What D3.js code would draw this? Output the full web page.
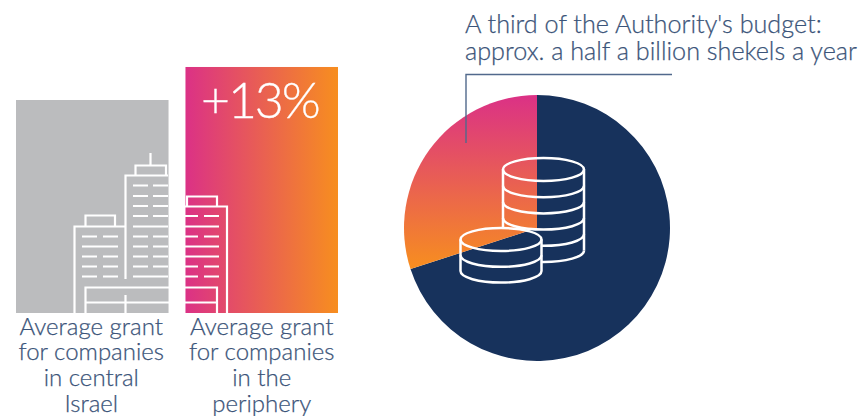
<!DOCTYPE html>
<html><head><meta charset="utf-8">
<script src="https://cdn.jsdelivr.net/npm/d3@7"></script>
<style>html,body{margin:0;padding:0;background:#fff}svg{display:block}text{font-family:Lato,"Open Sans",sans-serif;font-weight:300}</style>
</head><body><div id="c"></div>
<script>
const barCategories = ["central", "periphery"];
const barValues = [100, 115.5];
const barLabelLines = [["Average grant","for companies","in central","Israel"],["Average grant","for companies","in the","periphery"]];
const pieNames = ["rest", "authority third"];
const pieValues = [70, 30];
const deltaLabel = "+13%";
const titleLines = ["A third of the Authority's budget:","approx. a half a billion shekels a year"];

const W=859,H=416, ink="#3b5479", navy="#17325c", lineW=2.2;
const svg=d3.select("#c").append("svg").attr("width",W).attr("height",H);
const defs=svg.append("defs");
function grad(id,attrs,units){
  const g=defs.append("linearGradient").attr("id",id).attr("gradientUnits",units);
  Object.entries(attrs).forEach(([k,v])=>g.attr(k,v));
  g.append("stop").attr("offset",0).attr("stop-color","#db3186");
  g.append("stop").attr("offset",1).attr("stop-color","#f78e1f");
}
grad("gh",{x1:185,x2:338,y1:0,y2:0},"userSpaceOnUse");

const cx=537,cy=228,R=133;
grad("gv",{x1:0,x2:0,y1:95-cy,y2:269-cy},"userSpaceOnUse");

// bars
const x=d3.scaleBand().domain(barCategories).range([16,338]).paddingInner(0.1);
const y=d3.scaleLinear().domain([0,100]).range([313,100]);
svg.selectAll("rect.bar").data(barCategories).join("rect").attr("class","bar")
  .attr("x",d=>x(d)).attr("width",x.bandwidth())
  .attr("y",(d,i)=>y(barValues[i])).attr("height",(d,i)=>313-y(barValues[i]))
  .attr("fill",(d,i)=>i?"url(#gh)":"#bbbcbe");

// buildings icon (decoration)
const icon=svg.append("g").attr("fill","none").attr("stroke","#fff").attr("stroke-width",lineW);
const P=d=>icon.append("path").attr("d",d);
P("M74.5 313V226.5H125 M85.5 226V215.5H115V226");
P("M125.5 279V175.5H168 M135.5 175V165.5H166V175 M150.5 165V153");
P("M187 205.5V196.5H217V206 M185 206.5H227V313");
P("M85.5 313V287.5H217V313 M85.5 302.5H217 M125.5 295V313");
const split=(a,b,c,d,yy)=>P(`M${a} ${yy}H${b}M${c} ${yy}H${d}`);
[236.5,256.5,266.5,276.5].forEach(v=>split(82,97,103,118,v)); P("M82 246.5H118");
[185.5,196,206,216,236.5,246.5,256.5,266.5].forEach(v=>split(133,148,153,168,v));
P("M133 226.5H168"); P("M133 276.5H168");
[216,236.5,266.5,276.5].forEach(v=>split(185,198,204,219,v));
[226.5,246.5,256.5].forEach(v=>P(`M185 ${v}H219`));

// +13%
svg.append("text").attr("x",201).attr("y",118).attr("font-size",50).attr("letter-spacing",-2.1)
  .attr("fill","#fff").attr("stroke","#fff").attr("stroke-width",0.3).text(deltaLabel);

// bar labels
barCategories.forEach((c,i)=>{
  barLabelLines[i].forEach((t,j)=>{
    svg.append("text").attr("x",x(c)+x.bandwidth()/2-(i?0:1)).attr("y",334.5+j*25.9)
      .attr("text-anchor","middle").attr("font-size",24).attr("fill",ink)
      .attr("stroke",ink).attr("stroke-width",0.25).text(t);
  });
});

// pie
const arcs=d3.pie().sort(null)(pieValues);
const arc=d3.arc().innerRadius(0).outerRadius(R);
svg.append("g").attr("transform",`translate(${cx},${cy})`).selectAll("path").data(arcs).join("path")
  .attr("d",arc).attr("fill",(d,i)=>i?"url(#gv)":navy)
  .attr("data-name",(d,i)=>pieNames[i]);

// coins
const coinRx=40.5, coinRy=11.5;
function stack(g,cxx,top,n,step){
  const b=top+n*step;
  g.append("ellipse").attr("cx",cxx).attr("cy",top).attr("rx",coinRx).attr("ry",coinRy);
  g.append("path").attr("d",`M${cxx-coinRx} ${top}V${b}M${cxx+coinRx} ${top}V${b}`);
  d3.range(1,n+1).forEach(k=>{
    const yy=top+k*step;
    g.append("path").attr("d",`M${cxx-coinRx} ${yy}A${coinRx} ${coinRy} 0 0 0 ${cxx+coinRx} ${yy}`);
  });
}
const mask=defs.append("mask").attr("id","m").attr("maskUnits","userSpaceOnUse")
  .attr("x",0).attr("y",0).attr("width",W).attr("height",H);
mask.append("rect").attr("width",W).attr("height",H).attr("fill","#fff");
mask.append("path").attr("fill","#000")
  .attr("d",`M460.5 239.5A40.5 11.5 0 0 1 541.5 239.5V271A40.5 11.5 0 0 1 460.5 271Z`);
const coin=svg.append("g").attr("fill","none").attr("stroke","#fff").attr("stroke-width",2.5);
stack(coin.append("g").attr("mask","url(#m)"),543.5,169.5,5,16.2);
stack(coin.append("g"),501,239.5,2,15.8);

// title + leader
titleLines.forEach((t,i)=>svg.append("text").attr("x",465).attr("y",33+i*27.2)
  .attr("font-size",25.2).attr("fill",ink).attr("stroke",ink).attr("stroke-width",0.25).text(t));
svg.append("path").attr("d","M672 74.5H466V143").attr("fill","none")
  .attr("stroke","#51698c").attr("stroke-width",1.4);
</script></body></html>
